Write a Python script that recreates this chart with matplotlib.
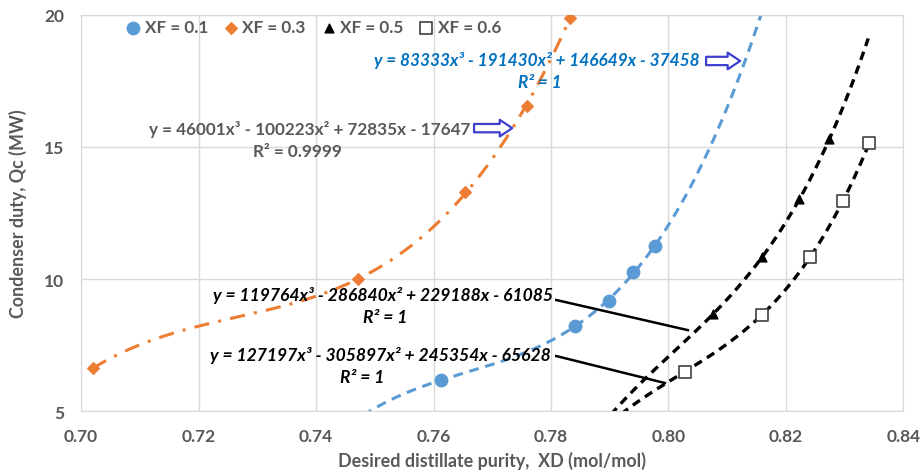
import numpy as np
import matplotlib.pyplot as plt

plt.rcParams['font.family'] = ['Lato', 'DejaVu Sans']

# datos (XD, Qc)
xd_01 = [0.7613, 0.7841, 0.7898, 0.7940, 0.7977]
qc_01 = [6.18, 8.23, 9.18, 10.26, 11.26]

xd_03 = [0.7020, 0.7472, 0.7654, 0.7759, 0.7832]
qc_03 = [6.63, 10.00, 13.28, 16.56, 19.87]

xd_05 = [0.8076, 0.8160, 0.8223, 0.8274]
qc_05 = [8.68, 10.85, 13.03, 15.30]

xd_06 = [0.8028, 0.8159, 0.8241, 0.8297, 0.8342]
qc_06 = [6.50, 8.65, 10.82, 12.97, 15.15]

# rango de la linea de tendencia (con extension)
trend_01 = (0.748, 0.82)
trend_03 = (0.702, 0.7832)
trend_05 = (0.787, 0.834)
trend_06 = (0.790, 0.8342)

x_ticks = [0.70, 0.72, 0.74, 0.76, 0.78, 0.80, 0.82, 0.84]
y_ticks = [5, 10, 15, 20]

grey = '#595959'
grid_c = '#D9D9D9'
blue = '#5B9BD5'
orange = '#ED7D31'

fig = plt.figure(figsize=(9.22, 4.77), dpi=100)
ax = fig.add_axes([0.0879, 0.1356, 0.8920, 0.8315])


#linea de tendencia cubica
def trend(x, y, rango, **kw):
    coef = np.polyfit(x, y, 3)
    xs = np.linspace(rango[0], rango[1], 300)
    ax.plot(xs, np.polyval(coef, xs), zorder=2, **kw)


trend(xd_01, qc_01, trend_01, color=blue, lw=2.2, dashes=(3.2, 2.2))
trend(xd_03, qc_03, trend_03, color=orange, lw=2.2, dashes=(5, 3, 1, 3))
trend(xd_05, qc_05, trend_05, color='black', lw=2.4, dashes=(2.6, 1.8))
trend(xd_06, qc_06, trend_06, color='black', lw=2.4, dashes=(2.6, 1.8))

h1 = ax.scatter(xd_01, qc_01, marker='o', s=80, color=blue, zorder=3, label='XF = 0.1')
h2 = ax.scatter(xd_03, qc_03, marker='D', s=35, color=orange, zorder=3, label='XF = 0.3')
h3 = ax.scatter(xd_05, qc_05, marker='^', s=40, color='black', zorder=3, label='XF = 0.5')
h4 = ax.scatter(xd_06, qc_06, marker='s', s=70, facecolor='white', edgecolor='#404040',
                linewidth=1.2, zorder=3, label='XF = 0.6')

ax.set_xlim(0.70, 0.84)
ax.set_ylim(5, 20)
ax.set_xticks(x_ticks)
ax.set_xticklabels(['%.2f' % t for t in x_ticks])
ax.set_yticks(y_ticks)
ax.grid(True, color=grid_c, lw=1)
ax.set_axisbelow(True)
for s in ax.spines.values():
    s.set_color(grid_c)
ax.tick_params(length=0, colors=grey, labelsize=12.5)
ax.tick_params(axis='x', pad=12)
ax.tick_params(axis='y', pad=12)
for lab in ax.get_xticklabels() + ax.get_yticklabels():
    lab.set_fontweight('bold')

ax.set_xlabel('Desired distillate purity,  XD (mol/mol)', fontsize=12.9, fontweight='bold',
              color=grey, labelpad=5)
ax.set_ylabel('Condenser duty, Qc (MW)', fontsize=12.9, fontweight='bold', color=grey, labelpad=12)

leg = ax.legend(handles=[h1, h2, h3, h4], loc='center', bbox_to_anchor=(0.283, 0.969), ncol=4,
                frameon=False, handlelength=0.8, handletextpad=0.26, columnspacing=0.95,
                prop={'size': 12.3, 'weight': 'bold'})
for t in leg.get_texts():
    t.set_color(grey)

# ecuaciones de las tendencias
ax.text(0.7776, 18.32, 'y = 83333x³ - 191430x² + 146649x - 37458', color='#0070C0', fontsize=12.4,
        fontweight='bold', style='italic', ha='center', va='center')
ax.text(0.7781, 17.45, 'R² = 1', color='#0070C0', fontsize=12.4,
        fontweight='bold', style='italic', ha='center', va='center')

ax.text(0.7390, 15.71, 'y = 46001x³ - 100223x² + 72835x - 17647', color=grey, fontsize=12.3,
        fontweight='bold', ha='center', va='center')
ax.text(0.7368, 14.84, 'R² = 0.9999', color=grey, fontsize=12.3,
        fontweight='bold', ha='center', va='center')

ax.text(0.7514, 9.40, 'y = 119764x³ - 286840x² + 229188x - 61085', color='black', fontsize=12.6,
        fontweight='bold', style='italic', ha='center', va='center')
ax.text(0.7517, 8.57, 'R² = 1', color='black', fontsize=12.6,
        fontweight='bold', style='italic', ha='center', va='center')

ax.text(0.7509, 7.13, 'y = 127197x³ - 305897x² + 245354x - 65628', color='black', fontsize=12.6,
        fontweight='bold', style='italic', ha='center', va='center')
ax.text(0.7478, 6.30, 'R² = 1', color='black', fontsize=12.6,
        fontweight='bold', style='italic', ha='center', va='center')

# flechas huecas
arrow = dict(arrowstyle='simple,head_length=0.6,head_width=0.8,tail_width=0.4',
             fc='white', ec='#3F3FCF', lw=1.6, mutation_scale=15, shrinkA=0, shrinkB=0)
ax.annotate('', xy=(0.8122, 18.25), xytext=(0.8064, 18.25), arrowprops=arrow)
ax.annotate('', xy=(0.7734, 15.71), xytext=(0.7669, 15.71), arrowprops=arrow)

# lineas guia
ax.plot([0.7809, 0.8033], [9.21, 8.07], color='black', lw=1.8, zorder=4)
ax.plot([0.7809, 0.7994], [7.09, 6.07], color='black', lw=1.8, zorder=4)

fig.savefig('out.png', dpi=100)
